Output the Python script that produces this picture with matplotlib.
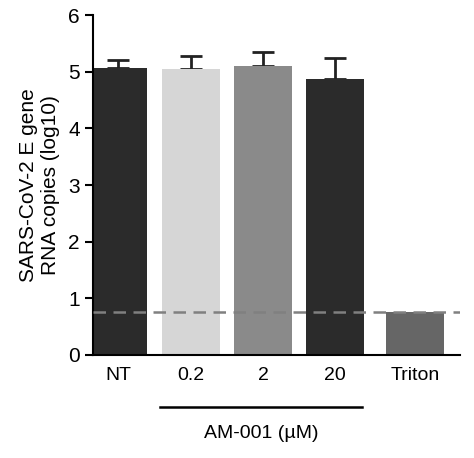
import matplotlib
matplotlib.use("Agg")
from matplotlib import pyplot as plt

plt.rcParams['font.family'] = ['Liberation Sans', 'DejaVu Sans']

categories = ['NT', '0.2', '2', '20', 'Triton']
values = [5.07, 5.05, 5.10, 4.88, 0.75]
errors = [0.14, 0.22, 0.25, 0.37, 0.0]
colors = ['#2b2b2b', '#d6d6d6', '#8a8a8a', '#2b2b2b', '#666666']
lod = 0.75

fig = plt.figure(figsize=(4.74, 4.58), dpi=100)
ax = fig.add_axes([0.196, 0.225, 0.774, 0.742])

x = [0, 1, 2, 3, 4.1]
ax.bar(x, values, width=0.8, color=colors, zorder=2)
for xi, v, e in zip(x, values, errors):
    if e > 0:
        ax.errorbar(xi, v, yerr=[[0], [e]], fmt='none', ecolor='#222222',
                    elinewidth=2, capsize=8, capthick=2, zorder=1)
ax.axhline(lod, color='#808080', linestyle=(0, (5, 3)), linewidth=1.8, zorder=3)

ax.set_xlim(-0.35, 4.72)
ax.set_ylim(0, 6)
ax.set_yticks(range(7))
ax.set_xticks(x)
ax.set_xticklabels(categories, fontsize=14)
ax.tick_params(axis='x', length=0, pad=9)
ax.tick_params(axis='y', labelsize=15, width=1.5, length=6)
ax.spines['top'].set_visible(False)
ax.spines['right'].set_visible(False)
ax.spines['left'].set_linewidth(1.5)
ax.spines['bottom'].set_linewidth(1.5)
ax.set_ylabel('SARS-CoV-2 E gene\nRNA copies (log10)', fontsize=15, labelpad=6)

fig.add_artist(plt.Line2D([160/474, 362/474], [1-407/458, 1-407/458],
                          color='black', linewidth=1.8))
fig.text(261/474, 1-433/458, 'AM-001 (\u00b5M)', ha='center', va='center', fontsize=14)

plt.savefig('out.png', dpi=100)
